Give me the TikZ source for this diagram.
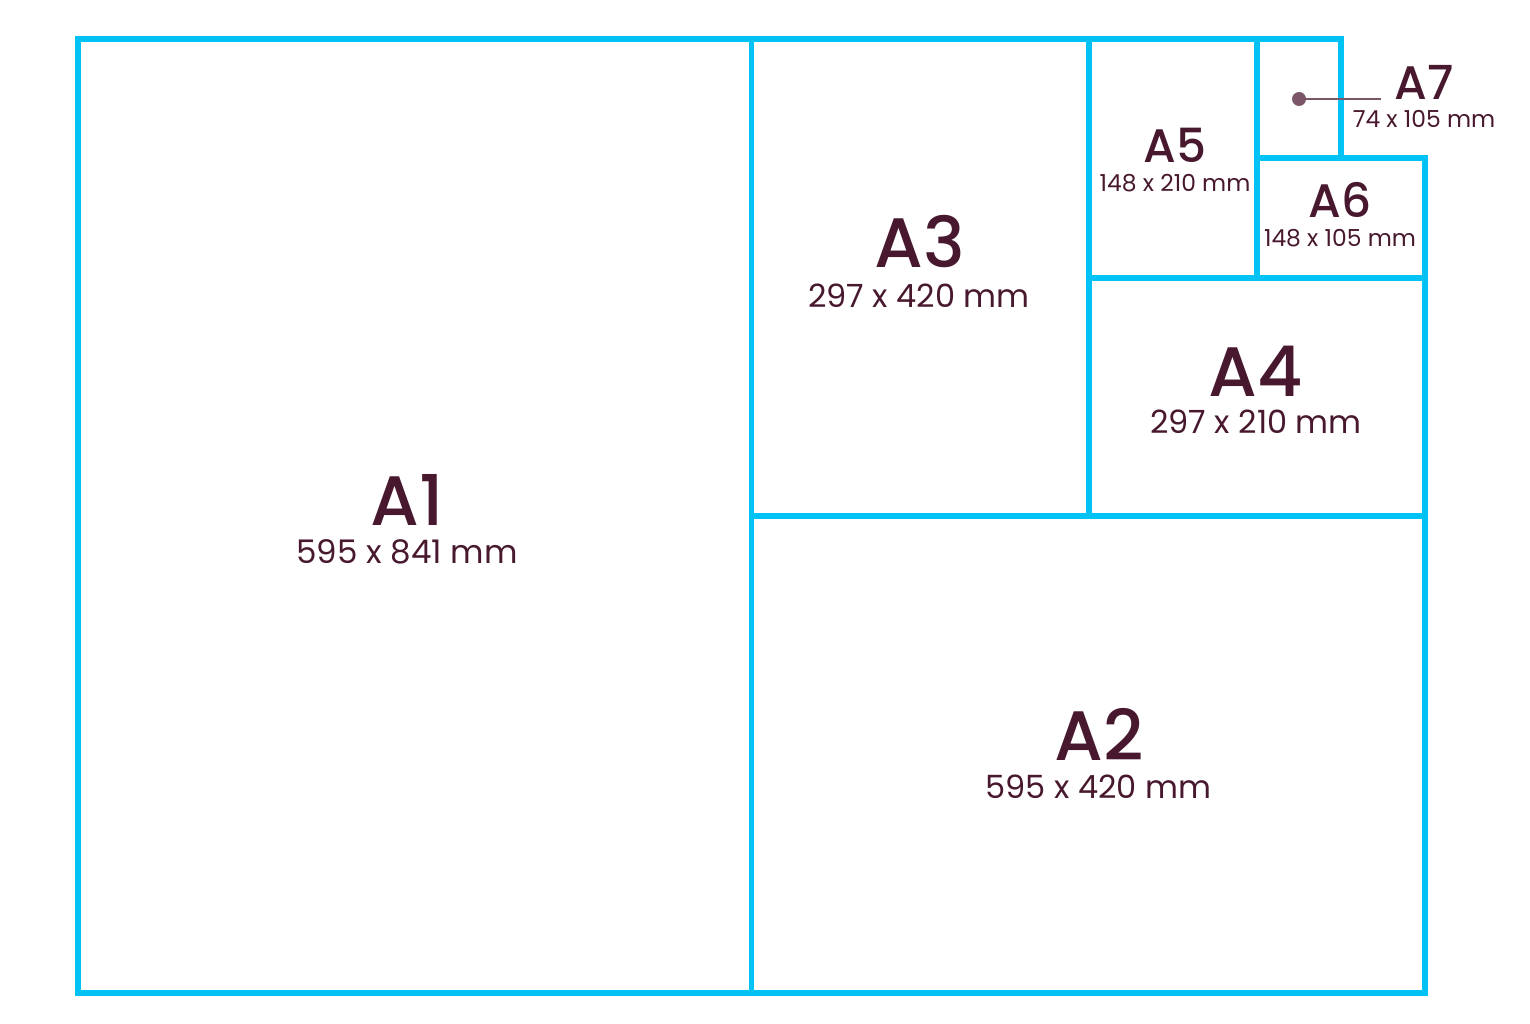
\documentclass[tikz,border=0pt]{standalone}
\usepackage{fontspec}
\setmainfont{Poppins}
\newfontfamily\lblfont{Poppins Medium}
\definecolor{sheetblue}{RGB}{0,194,245}
\definecolor{ink}{RGB}{72,24,46}
\definecolor{dotc}{RGB}{122,86,102}
\begin{document}
\begin{tikzpicture}[x=1pt,y=-1pt,
  sheet/.style={draw=sheetblue,line width=5.5pt,rectangle,inner sep=0pt,outer sep=0pt,miter limit=10},
  txt/.style={anchor=base,inner sep=0pt,text=ink,text height=0.72em,text depth=0pt},
  bigname/.style={txt,font=\lblfont\fontsize{70}{70}\selectfont},
  bigdim/.style={txt,font=\fontsize{32}{32}\selectfont},
  smallname/.style={txt,font=\lblfont\fontsize{47}{47}\selectfont},
  smalldim/.style={txt,font=\fontsize{23.4}{24}\selectfont}]
\useasboundingbox[fill=white] (0,0) rectangle (1530,1024);
% sheets
\node[sheet,minimum width=673.5pt,minimum height=954pt] (a1) at (414.75,516) {};
\node[sheet,minimum width=673.5pt,minimum height=477pt] (a2) at (1088.25,754.5) {};
\node[sheet,minimum width=337.5pt,minimum height=477pt] (a3) at (920.25,277.5) {};
\node[sheet,minimum width=336pt,minimum height=238pt] (a4) at (1257,397) {};
\node[sheet,minimum width=168pt,minimum height=239pt] (a5) at (1173,158.5) {};
\node[sheet,minimum width=168pt,minimum height=120pt] (a6) at (1341,218) {};
\node[sheet,minimum width=84pt,minimum height=119pt] (a7) at (1299,98.5) {};
% labels
\node[bigname] (a1n) at (407,525) {A1};
\node[bigdim,font=\fontsize{32.5}{33}\selectfont] (a1d) at (407,563) {595 x 841 mm};
\node[bigname] (a2n) at (1099,760) {A2};
\node[bigdim] (a2d) at (1098.5,798) {595 x 420 mm};
\node[bigname] (a3n) at (920,268) {A3};
\node[bigdim] (a3d) at (919,307) {297 x 420 mm};
\node[bigname] (a4n) at (1256,396.5) {A4};
\node[bigdim] (a4d) at (1256,433) {297 x 210 mm};
\node[smallname] (a5n) at (1175,163) {A5};
\node[smalldim] (a5d) at (1175,192) {148 x 210 mm};
\node[smallname] (a6n) at (1340,218) {A6};
\node[smalldim] (a6d) at (1340,247) {148 x 105 mm};
\node[smallname] (a7n) at (1424,100) {A7};
\node[smalldim] (a7d) at (1424,128) {74 x 105 mm};
% A7 pointer
\node[circle,fill=dotc,minimum size=14pt,inner sep=0pt] (dot) at (1299,99) {};
\coordinate (a7end) at (1381,99);
\draw[dotc,line width=2pt] (dot.center) -- (a7end);
\end{tikzpicture}
\end{document}
